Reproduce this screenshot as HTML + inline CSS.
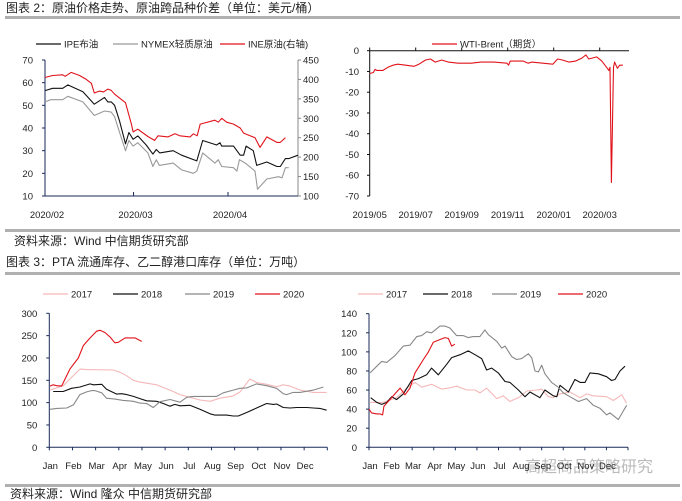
<!DOCTYPE html>
<html><head><meta charset="utf-8">
<style>
html,body{margin:0;padding:0;background:#fff;}
svg{display:block;font-family:"Liberation Sans","Noto Sans CJK SC",sans-serif;}
.tk{font-size:9.5px;fill:#222;}
.hd{font-size:12px;fill:#222;}
</style></head>
<body>
<svg id="s" width="682" height="501" viewBox="0 0 682 501">
<text class="hd" x="6" y="12">图表 2：原油价格走势、原油跨品种价差（单位：美元/桶）</text>
<rect x="5" y="16" width="675" height="3" fill="#b0b0b0"/>
<rect x="5" y="229" width="675" height="3" fill="#b0b0b0"/>
<text class="hd" x="14" y="245">资料来源：Wind 中信期货研究部</text>
<text class="hd" x="6" y="266">图表 3：PTA 流通库存、乙二醇港口库存（单位：万吨）</text>
<rect x="5" y="272" width="675" height="3" fill="#b0b0b0"/>
<text x="525" y="472" font-size="16" fill="#bbb">高超商品策略研究</text>
<rect x="5" y="484" width="675" height="3" fill="#b0b0b0"/>
<text class="hd" x="10" y="498">资料来源：Wind 隆众 中信期货研究部</text>
<g id="g"></g>
</svg>
<script>
// Chart 1 (trading-day index)
const c1Ticks = ["2020/02","2020/03","2020/04"];
const c1TickDays = [0,21,43.4];
const ipeDays = [0,1.8,4.2,5.4,9,11.7,14.1,14.9,15.7,16.5,17.7,19.1,19.9,20.9,22,24,25.6,26.4,27.2,30.4,32.4,36,37.4,39.9,40.7,41.5,41.9,44.7,46.3,47.1,47.7,49.4,50.2,52.6,55,55.8,57,57.8,60];
const ipeVals = [56.5,57.5,57.5,59,56,50.5,53.5,51.5,51.5,50,43,33,38,35,36.5,32.5,28.5,30.5,29,30,28,25.5,34.5,33,32.5,33.5,32,32,28,28,32,30,23.5,25,23,23,26.5,26.5,28];
const nymDays = [0,1.4,4.2,5.4,9,11.7,14.1,15.7,16.5,17.7,19.1,19.9,20.9,22,24.4,25.6,26.4,27.1,30.4,32.4,35.2,36,37.4,40.3,41.1,41.9,44.7,45.5,46.1,47.5,49.8,50.4,52.6,55.4,56.2,57,57.8];
const nymVals = [51.5,52.5,52.5,54,51.5,45.5,47.5,47,45,38,30,34.5,32,33.5,29,23,26,23.5,24.5,21.5,20,21,29,24.5,26,23,22.5,21,26,24.5,21,13,17.5,18.5,18,22.5,22.5];
const ineDays = [0,1.8,4.2,4.8,6.2,8.2,9.8,11,11.7,12.9,13.9,14.9,15.7,16.5,19.1,20.5,20.9,22,24.4,26,26.8,29.2,30.8,32,34.4,35.2,36.1,36.8,40.3,41.1,41.9,43.1,44.7,46.3,47.1,49.8,51,52.6,55,55.8,57];
const ineVals = [405,410,412,408,418,410,400,390,365,370,368,375,372,362,340,285,265,272,253,243,255,252,260,255,252,260,255,285,295,290,300,290,285,275,262,250,225,252,238,238,250];
// Chart 2 (month offset from 2019/05)
const c2Ticks = ["2019/05","2019/07","2019/09","2019/11","2020/01","2020/03"];
const c2TickMonths = [0,2,4,6,8,10];
const spreadMonths = [0,.16,.23,.3,.58,.79,1.01,1.22,1.57,1.93,2.14,2.43,2.64,2.85,3.13,3.42,3.84,4.13,4.41,4.84,5.4,5.97,6.04,6.11,6.68,6.89,7.04,7.53,7.96,8.17,8.38,8.67,8.95,9.23,9.4,9.52,9.87,10.09,10.3,10.4,10.45,10.51,10.6,10.65,10.77,10.87,11.01];
const spreadVals = [-11,-10.5,-9,-9.5,-9.5,-8,-7,-6.5,-7,-7.5,-6.5,-4.5,-4,-5.5,-4.5,-5.5,-6,-6,-6,-5.5,-5.5,-6,-7,-5,-5,-6,-5.5,-6,-6.5,-4,-4.5,-5.5,-5,-3.5,-2,-4,-3,-5,-8,-9.5,-8,-63.5,-8,-5.5,-8.5,-7,-7];
// Chart 3 PTA (month position)
const monthLabels = ["Jan","Feb","Mar","Apr","May","Jun","Jul","Aug","Sep","Oct","Nov","Dec"];
const pta17M = [.03,.6,1.32,1.61,2.76,3.05,3.34,3.63,3.91,4.63,5.35,5.64,6.07,6.5,6.94,7.37,7.94,8.23,8.66,8.95,9.38,9.81,10.1,10.39,10.82,11.4,11.97];
const pta17V = [128,138,175,174,173,168,160,150,146,140,125,118,112,106,103,110,115,124,153,145,141,136,140,137,128,123,123];
const pta18M = [.17,.6,.96,1.32,1.76,1.9,2.26,2.47,2.91,3.12,3.34,3.63,3.91,4.2,4.63,4.92,5.21,5.42,5.64,6.07,6.5,6.94,7.15,7.65,7.94,8.16,8.52,8.95,9.38,9.67,9.81,10.1,10.39,10.68,11.11,11.4,11.68,11.97];
const pta18V = [125,125,132,135,142,140,141,130,119,120,118,114,109,104,103,98,92,96,93,94,85,75,72,72,70,70,78,88,98,96,97,89,88,89,89,88,87,83];
const pta19M = [.03,.32,.75,1.04,1.32,1.61,1.83,1.97,2.26,2.47,2.83,3.19,3.63,3.91,4.2,4.49,4.78,5.21,5.5,5.64,5.93,6.22,7.22,7.51,7.94,8.23,8.52,8.95,9.38,9.81,10.1,10.24,10.53,10.82,11.4,11.83];
const pta19V = [85,87,88,95,118,124,127,127,122,110,108,105,103,99,98,89,102,107,103,101,112,114,114,122,128,132,133,142,138,132,120,118,123,123,128,135];
const pta20M = [.03,.17,.32,.53,.89,1.25,1.47,1.76,2.04,2.19,2.4,2.62,2.83,2.98,3.27,3.7,3.99];
const pta20V = [137,140,138,137,175,200,228,245,260,262,257,247,234,235,245,245,237];
// Chart 4 MEG
const meg17M = [.05,.66,1.28,1.75,2.13,2.44,2.9,3.37,3.68,4.06,4.53,4.91,5.14,5.45,5.92,6.22,6.53,7,7.31,7.77,8,8.31,8.54,8.85,9.31,9.78,10.08,10.39,11.01,11.32,11.71,11.94];
const meg17V = [47,47,52,62,68,63,66,61,62,64,60,60,57,62,51,54,48,53,59,60,61,53,52,56,58,52,56,54,53,49,55,46];
const meg18M = [.08,.36,.59,.82,1.05,1.28,1.59,1.98,2.29,2.67,2.9,3.21,3.6,3.83,4.22,4.6,4.91,5.22,5.45,5.68,5.99,6.3,6.53,6.92,7.23,7.46,7.92,8.15,8.54,8.7,8.85,9.24,9.54,9.78,10.01,10.24,10.63,11.01,11.24,11.4,11.63,11.86];
const meg18V = [52,47,45,47,53,50,56,70,72,76,83,76,87,94,97,101,97,93,81,83,78,69,68,60,53,58,52,60,54,53,65,58,71,68,68,78,77,74,70,71,80,85];
const meg19M = [.05,.36,.59,.82,1.2,1.59,1.9,2.21,2.44,2.67,2.9,3.29,3.52,3.75,4.06,4.37,4.6,4.83,5.14,5.37,5.53,5.92,6.15,6.3,6.61,6.84,7.07,7.38,7.54,7.69,7.85,8,8.15,8.46,8.77,9,9.31,9.7,10.08,10.39,10.7,11.01,11.17,11.55,11.78,11.94];
const meg19V = [78,85,90,89,96,106,107,116,117,121,120,127,127,125,117,117,115,116,116,123,118,111,104,106,95,92,93,98,94,80,79,86,77,68,63,57,53,48,51,44,41,34,36,29,38,44];
const meg20M = [0,.12,.36,.51,.63,.69,.97,1.2,1.44,1.67,1.9,2.13,2.52,2.75,2.98,3.29,3.52,3.68,3.83,3.98];
const meg20V = [40,36,35,35,34,43,50,56,62,55,62,78,92,100,110,113,115,114,106,108];

const NS="http://www.w3.org/2000/svg", G=document.getElementById('g');
function el(t,a,p){const e=document.createElementNS(NS,t);for(const k in a)e.setAttribute(k,a[k]);(p||G).appendChild(e);return e;}
function lin(d0,d1,r0,r1){return v=>r0+(v-d0)/(d1-d0)*(r1-r0);}
function series(xs,ys,sx,sy,col,name,w){
  const pts=xs.map((x,i)=>sx(x).toFixed(1)+','+sy(ys[i]).toFixed(1)).join(' ');
  const p=el('polyline',{points:pts,fill:'none',stroke:col,'stroke-width':w||1.1,'stroke-linejoin':'round'});
  
  
}
function legend(x,y,col,label,name){
  const g=el('g',{});
  
  
  el('line',{x1:x,x2:x+25,y1:y,y2:y,stroke:col,'stroke-width':1.3},g);
  const t=el('text',{x:x+28,y:y+3.5,class:'tk'},g);t.textContent=label;
}
function txt(x,y,s,anchor,name){const t=el('text',{x:x,y:y,class:'tk','text-anchor':anchor||'start'});t.textContent=s;
  
  return t;}

// ---- Chart 1
{
  const sx=lin(0,60,45,298), sy=lin(10,70,196,60), sy2=lin(100,450,196,60);
  el('line',{x1:45,x2:45,y1:60,y2:196,stroke:'#1a2a5a'});
  el('line',{x1:298,x2:298,y1:60,y2:196,stroke:'#888'});
  el('line',{x1:45,x2:298,y1:196,y2:196,stroke:'#1a2a5a'});
  for(let v=10;v<=70;v+=10){el('line',{x1:42,x2:45,y1:sy(v),y2:sy(v),stroke:'#1a2a5a'});txt(33,sy(v)+3.5,String(v),'end','c1-left-tick');}
  for(let v=100;v<=450;v+=50){el('line',{x1:298,x2:301,y1:sy2(v),y2:sy2(v),stroke:'#888'});txt(303,sy2(v)+3.5,String(v),'start','c1-right-tick');}
  c1TickDays.forEach((d,i)=>{el('line',{x1:sx(d),x2:sx(d),y1:196,y2:192,stroke:'#1a2a5a'});txt(sx(d)+2,218,c1Ticks[i],'middle','c1-x-tick');});
  series(nymDays,nymVals,sx,sy,'#999','nymex-line');
  series(ipeDays,ipeVals,sx,sy,'#111','ipe-brent-line');
  series(ineDays,ineVals,sx,sy2,'#e0131b','ine-crude-line');
  legend(36,44,'#111','IPE布油','legend-ipe');
  legend(113,44,'#999','NYMEX轻质原油','legend-nymex');
  legend(220,44,'#e0131b','INE原油(右轴)','legend-ine');
}
// ---- Chart 2
{
  const sx=lin(0,2,369.7,415.7), sy=lin(0,-70,50.7,196);
  el('line',{x1:369.7,x2:369.7,y1:50.7,y2:196,stroke:'#111'});
  el('line',{x1:369.7,x2:629,y1:50.7,y2:50.7,stroke:'#111'});
  for(let v=0;v>=-70;v-=10){el('line',{x1:367,x2:369.7,y1:sy(v),y2:sy(v),stroke:'#111'});txt(359,sy(v)+3.5,String(v),'end','c2-y-tick');}
  c2TickMonths.forEach((m,i)=>{el('line',{x1:sx(m),x2:sx(m),y1:50.7,y2:47.5,stroke:'#111'});txt(sx(m),218,c2Ticks[i],'middle','c2-x-tick');});
  series(spreadMonths,spreadVals,sx,sy,'#e0131b','wti-brent-line');
  legend(432,44,'#e0131b','WTI-Brent（期货）','legend-wti-brent');
}
// ---- Chart 3 & 4
function monthChart(x0,x1,yTop,yBot,vmax,step,data,legX,prefix){
  const sx=lin(0,12,x0,x1), sy=lin(0,vmax,yBot,yTop);
  el('line',{x1:x0,x2:x0,y1:yTop,y2:yBot,stroke:'#1a2a5a'});
  el('line',{x1:x0,x2:x1,y1:yBot,y2:yBot,stroke:'#1a2a5a'});
  for(let v=0;v<=vmax;v+=step){el('line',{x1:x0-3,x2:x0,y1:sy(v),y2:sy(v),stroke:'#1a2a5a'});txt(x0-12,sy(v)+3.5,String(v),'end',prefix+'-y-tick');}
  for(let m=0;m<=12;m++)el('line',{x1:sx(m),x2:sx(m),y1:yBot,y2:yBot+3,stroke:'#1a2a5a'});
  monthLabels.forEach((l,i)=>txt(sx(i)+1,469,l,'middle',prefix+'-x-tick'));
  const cols=['#f5b8b8','#111','#888','#e0131b'],yrs=['2017','2018','2019','2020'];
  data.forEach((d,i)=>series(d[0],d[1],sx,sy,cols[i],prefix+'-'+yrs[i]+'-line'));
  yrs.forEach((y,i)=>legend(legX[i],294,cols[i],y,prefix+'-legend-'+y));
}
monthChart(49.3,327.3,313.3,447.3,300,50,[[pta17M,pta17V],[pta18M,pta18V],[pta19M,pta19V],[pta20M,pta20V]],[43,113,185,255],'pta');
monthChart(369,628,313.7,447.3,140,20,[[meg17M,meg17V],[meg18M,meg18V],[meg19M,meg19V],[meg20M,meg20V]],[358,423,492,558],'meg');
</script>
</body></html>
